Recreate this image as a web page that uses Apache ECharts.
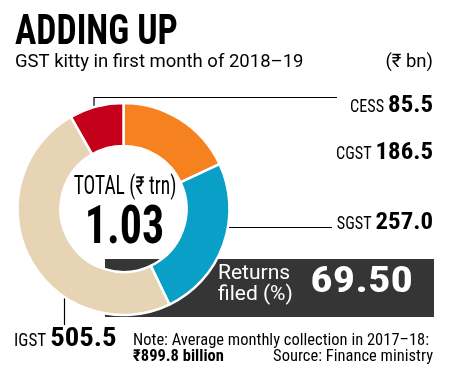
<!DOCTYPE html>
<html><head><meta charset="utf-8">
<script src="https://cdn.jsdelivr.net/npm/echarts@6/dist/echarts.min.js"></script>
<style>html,body{margin:0;padding:0;background:#fff}#c{width:462px;height:387px}</style>
</head><body><div id="c"></div>
<script>
// ---- data ----
var categories = ['CGST', 'SGST', 'IGST', 'CESS'];
var values = [186.5, 257.0, 505.5, 85.5];
var colors = ['#F6821F', '#0A9FC6', '#E7D4B5', '#C5001A'];
var totalTrn = '1.03';
var returnsFiled = '69.50';
var titleText = 'ADDING UP';
var subtitleText = 'GST kitty in first month of 2018\u201319';
var unitText = '(\u20b9 bn)';
var noteLine1 = 'Note: Average monthly collection in 2017\u201318:';
var noteLine2 = '\u20b9899.8 billion';
var sourceText = 'Source: Finance ministry';

var F = '"Roboto Condensed"';
var R = 'Roboto';
var cv = document.createElement('canvas').getContext('2d');
function tw(t, font) { cv.font = font; return cv.measureText(t).width; }

var chart = echarts.init(document.getElementById('c'));
var g = [];
function txt(x, y, t, font, fill, align, sx, z) {
  g.push({type: 'text', x: x, y: y, z: z || 10, scaleX: sx || 1,
    style: {text: t, font: font, fill: fill || '#000', align: align || 'left', verticalAlign: 'middle'}});
}
// title
txt(15, 33, titleText, 'bold 43px ' + F, '#000', 'left', 0.83);
txt(15, 62.6, subtitleText, '18.5px ' + R);
txt(433, 62.6, unitText, '18.5px ' + R, '#000', 'right');

// dark box behind donut
g.push({type: 'rect', z: 0, shape: {x: 105, y: 259, width: 329, height: 58}, style: {fill: '#353535'}});
txt(218, 273.5, 'Returns', '21px ' + R, '#fff');
txt(218, 295, 'filed (%)', '21px ' + R, '#fff');
txt(413, 282.6, returnsFiled, 'bold 37px ' + F, '#fff', 'right', 1.2);

// leader lines
g.push({type: 'polyline', z: 1, shape: {points: [[94, 106], [94, 97.5], [337, 97.5]]}, style: {stroke: '#000', lineWidth: 1.2, fill: null}});
g.push({type: 'polyline', z: 1, shape: {points: [[226, 227.5], [332, 227.5]]}, style: {stroke: '#000', lineWidth: 1.2, fill: null}});
g.push({type: 'polyline', z: 1, shape: {points: [[64.5, 298], [64.5, 325]]}, style: {stroke: '#000', lineWidth: 1.2, fill: null}});

// labels
var labelPos = {CESS: [433, 113, 'right'], CGST: [433, 160, 'right'], SGST: [433, 230, 'right'], IGST: [14, 347, 'left']};
categories.forEach(function (c, i) {
  var p = labelPos[c];
  var vs = values[i].toFixed(1);
  var big = p[2] === 'left';
  var vsz = big ? 25 : 23, nsz = big ? 19 : 18, vsx = big ? 1.15 : 1.08, nsx = 0.9;
  var vf = 'bold ' + vsz + 'px ' + F, nf = nsz + 'px ' + F;
  var vw = tw(vs, vf) * vsx, nw = tw(c, nf) * nsx;
  if (p[2] === 'right') {
    txt(p[0], p[1] - 0.29 * vsz, vs, vf, '#000', 'right', vsx);
    txt(p[0] - vw - 4, p[1] - 0.29 * nsz, c, nf, '#000', 'right', nsx);
  } else {
    txt(p[0], p[1] - 0.29 * nsz, c, nf, '#000', 'left', nsx);
    txt(p[0] + nw + 4, p[1] - 0.29 * vsz, vs, vf, '#000', 'left', vsx);
  }
});

// center
txt(125, 187.7, 'TOTAL (\u20b9 trn)', '25px ' + F, '#000', 'center', 0.78);
txt(124.5, 229.6, totalTrn, 'bold 53px ' + F, '#000', 'center', 0.83);

// note
txt(133, 340.5, noteLine1, '16.5px ' + F);
txt(133, 356.5, noteLine2, 'bold 16.5px ' + F);
txt(433, 356.5, sourceText, '16.5px ' + F, '#000', 'right');

chart.setOption({
  animation: false,
  series: [{
    type: 'pie', z: 2,
    center: [123.5, 209], radius: [63, 106],
    startAngle: 90, clockwise: true,
    label: {show: false}, labelLine: {show: false},
    emphasis: {disabled: true},
    itemStyle: {borderColor: '#fff', borderWidth: 2.5},
    data: categories.map(function (c, i) { return {name: c, value: values[i], itemStyle: {color: colors[i]}}; })
  }],
  graphic: g
});
</script></body></html>
